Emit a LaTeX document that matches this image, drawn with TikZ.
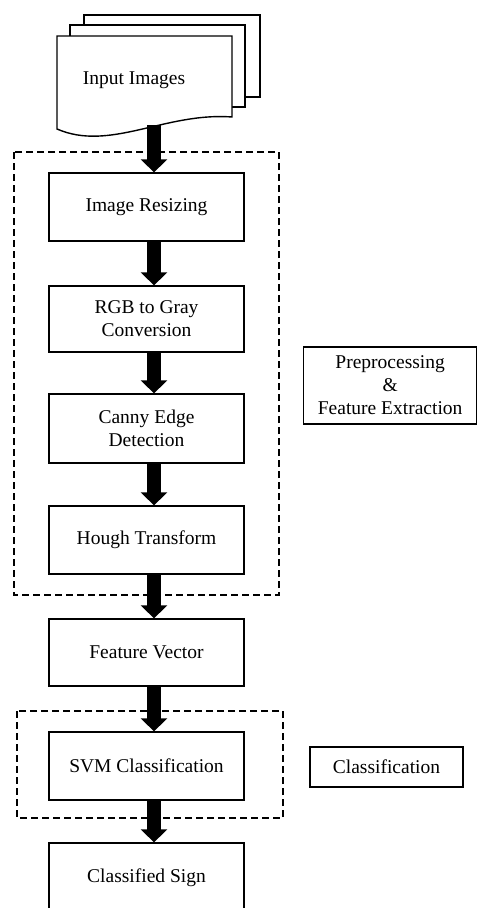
\documentclass[tikz,border=0pt]{standalone}
\usepackage{fontspec}
\setmainfont{Liberation Serif}
\usetikzlibrary{arrows.meta}
\tikzset{
  box/.style={draw=black, line width=1.3pt, fill=white, minimum width=195pt, align=center,
    font=\fontsize{19.5}{23}\selectfont, inner sep=0pt},
  grp/.style={draw=black, line width=1.3pt, dash pattern=on 7pt off 4pt},
  page/.style={draw=black, line width=1.4pt, fill=white},
  blk/.style={line width=14pt, -{Triangle[width=26pt,length=13pt]}},
  lbl/.style={font=\fontsize{19.5}{23}\selectfont, align=center, inner sep=0pt}
}
\begin{document}
\begin{tikzpicture}[x=1pt,y=-1pt]
\useasboundingbox (0,0) rectangle (478,908);
\clip (0,0) rectangle (478,908);
% document stack
\draw[page] (84,15) rectangle (260,97);
\draw[page] (70,25) rectangle (245,107);
\draw[page] (57,36) -- (232,36) -- (232,117) .. controls (165,112) and (110,152) .. (57,129) -- cycle;
\node[lbl] (input) at (134,80) {Input Images};
\coordinate (docbot) at (154,125);
% group boxes
\draw[grp] (14,152) rectangle (279,595);
\draw[grp] (17,711) rectangle (283,818);
% process boxes
\node[box, minimum height=68pt] (resize) at (146.5,207) {Image Resizing};
\node[box, minimum height=66pt] (rgb) at (146.5,319) {RGB to Gray\\Conversion};
\node[box, minimum height=69pt] (canny) at (146.5,428.5) {Canny Edge\\Detection};
\node[box, minimum height=68pt] (hough) at (146.5,540) {Hough Transform};
\node[box, minimum height=67pt] (fv) at (146.5,652.5) {Feature Vector};
\node[box, minimum height=68pt] (svm) at (146.5,766) {SVM Classification};
\node[box, minimum height=70pt] (cls) at (146.5,878) {Classified Sign};
% side labels
\node[box, minimum width=173pt, minimum height=77pt, anchor=west] (prep) at (303,385.5) {Preprocessing\\\&\\Feature Extraction};
\node[box, minimum width=153pt, minimum height=40pt] (clsf) at (386.5,767) {Classification};
% arrows
\draw[blk] (docbot) -- ([xshift=7.5pt]resize.north);
\draw[blk] ([xshift=7.5pt]resize.south) -- ([xshift=7.5pt]rgb.north);
\draw[blk] ([xshift=7.5pt]rgb.south) -- ([xshift=7.5pt]canny.north);
\draw[blk] ([xshift=7.5pt]canny.south) -- ([xshift=7.5pt]hough.north);
\draw[blk] ([xshift=7.5pt]hough.south) -- ([xshift=7.5pt]fv.north);
\draw[blk] ([xshift=7.5pt]fv.south) -- ([xshift=7.5pt]svm.north);
\draw[blk] ([xshift=7.5pt]svm.south) -- ([xshift=7.5pt]cls.north);
\end{tikzpicture}
\end{document}
